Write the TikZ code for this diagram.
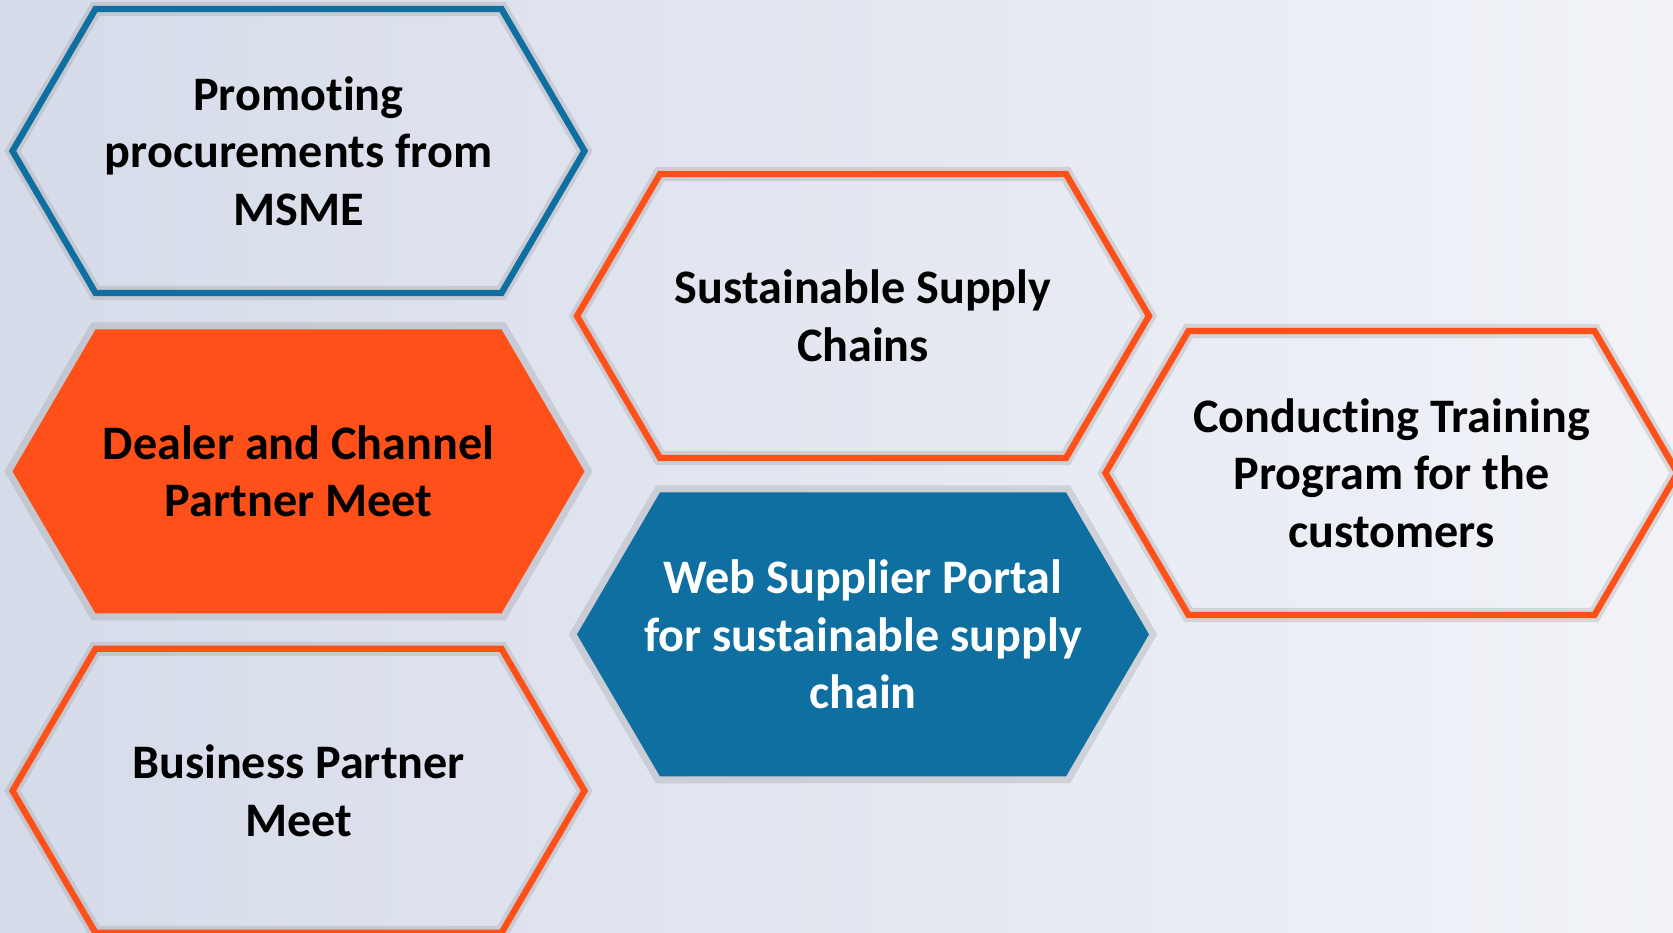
\documentclass[tikz,border=0pt]{standalone}
\usepackage{fontspec}
\setmainfont{Carlito}[RawFeature={-liga;-clig;-calt;-dlig;-rlig}]
\usetikzlibrary{positioning,calc,backgrounds}

\definecolor{hexblue}{HTML}{0E6FA0}
\definecolor{hexorange}{HTML}{FF5019}
\definecolor{bgleft}{HTML}{D5DBE9}
\definecolor{bgright}{HTML}{F1F3F8}

% hexagon frame round a node centre
\newcommand{\hexpath}[1]{([shift={(-2.03,1.42)}]#1.center) -- ([shift={(2.03,1.42)}]#1.center) -- ([shift={(2.86,0)}]#1.center) -- ([shift={(2.03,-1.42)}]#1.center) -- ([shift={(-2.03,-1.42)}]#1.center) -- ([shift={(-2.86,0)}]#1.center) -- cycle}

\begin{document}
\begin{tikzpicture}[
  font=\fontsize{13.7}{16.4}\selectfont\bfseries,
  hexbox/.style={align=center, inner sep=0pt, minimum width=4.05cm, minimum height=2.84cm},
  halo/.style={preaction={draw=gray!80, opacity=.3, line width=4pt}},
  hexline/.style={halo, line width=1.8pt, line join=miter}
]
\useasboundingbox (0,0) rectangle (16.73,-9.33);

\node[hexbox] (msme) at (2.985,-1.51) {Promoting\\procurements from\\MSME};
\node[hexbox, below=0.35cm of msme] (dealer) {Dealer and Channel\\Partner Meet};
\node[hexbox, below=0.34cm of dealer] (business) {Business Partner\\Meet};
\node[hexbox] (supply) at (8.63,-3.16) {Sustainable Supply\\Chains};
\node[hexbox, below=0.33cm of supply, text=white] (portal) {Web Supplier Portal\\for sustainable supply\\chain};
\node[hexbox] (training) at (13.915,-4.73) {Conducting Training\\Program for the\\customers};

\begin{scope}[on background layer]
  \shade[left color=bgleft, right color=bgright] (0,0) rectangle (16.73,-9.33);
  \foreach \n/\c in {msme/hexblue, business/hexorange, supply/hexorange, training/hexorange}
    \draw[hexline, draw=\c] \hexpath{\n};
  \fill[halo, hexorange] \hexpath{dealer};
  \fill[halo, hexblue] \hexpath{portal};
\end{scope}
\end{tikzpicture}
\end{document}
